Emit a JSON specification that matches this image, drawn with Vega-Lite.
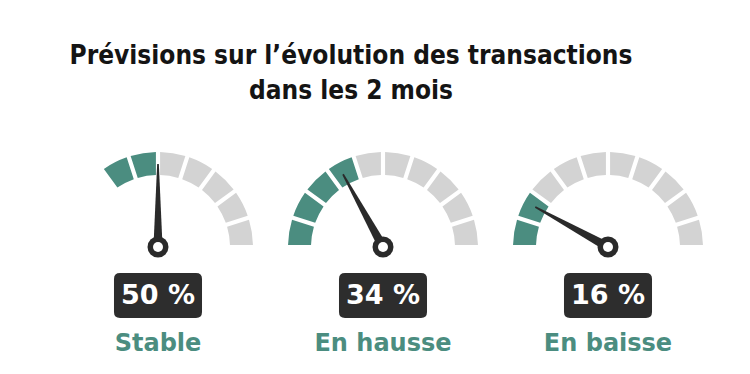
{
  "$schema": "https://vega.github.io/schema/vega-lite/v6.json",
  "width": 750,
  "height": 264,
  "padding": {"top": 43, "left": 0, "right": 0, "bottom": 0},
  "background": "white",
  "title": {
    "text": ["Prévisions sur l’évolution des transactions", "dans les 2 mois"],
    "anchor": "middle",
    "font": "DejaVu Sans Condensed, Liberation Sans Narrow, sans-serif",
    "fontSize": 26,
    "fontWeight": "bold",
    "color": "#141414",
    "lineHeight": 35,
    "offset": 7,
    "dx": -24
  },
  "config": {"view": {"stroke": null}},
  "datasets": {
    "segments": [
      {"gauge": "Stable", "start": 30, "end": 40, "state": "filled"},
      {"gauge": "Stable", "start": 40, "end": 50, "state": "filled"},
      {"gauge": "Stable", "start": 50, "end": 60, "state": "empty"},
      {"gauge": "Stable", "start": 60, "end": 70, "state": "empty"},
      {"gauge": "Stable", "start": 70, "end": 80, "state": "empty"},
      {"gauge": "Stable", "start": 80, "end": 90, "state": "empty"},
      {"gauge": "Stable", "start": 90, "end": 100, "state": "empty"},
      {"gauge": "En hausse", "start": 0, "end": 10, "state": "filled"},
      {"gauge": "En hausse", "start": 10, "end": 20, "state": "filled"},
      {"gauge": "En hausse", "start": 20, "end": 30, "state": "filled"},
      {"gauge": "En hausse", "start": 30, "end": 40, "state": "filled"},
      {"gauge": "En hausse", "start": 40, "end": 50, "state": "empty"},
      {"gauge": "En hausse", "start": 50, "end": 60, "state": "empty"},
      {"gauge": "En hausse", "start": 60, "end": 70, "state": "empty"},
      {"gauge": "En hausse", "start": 70, "end": 80, "state": "empty"},
      {"gauge": "En hausse", "start": 80, "end": 90, "state": "empty"},
      {"gauge": "En hausse", "start": 90, "end": 100, "state": "empty"},
      {"gauge": "En baisse", "start": 0, "end": 10, "state": "filled"},
      {"gauge": "En baisse", "start": 10, "end": 20, "state": "filled"},
      {"gauge": "En baisse", "start": 20, "end": 30, "state": "empty"},
      {"gauge": "En baisse", "start": 30, "end": 40, "state": "empty"},
      {"gauge": "En baisse", "start": 40, "end": 50, "state": "empty"},
      {"gauge": "En baisse", "start": 50, "end": 60, "state": "empty"},
      {"gauge": "En baisse", "start": 60, "end": 70, "state": "empty"},
      {"gauge": "En baisse", "start": 70, "end": 80, "state": "empty"},
      {"gauge": "En baisse", "start": 80, "end": 90, "state": "empty"},
      {"gauge": "En baisse", "start": 90, "end": 100, "state": "empty"}
    ],
    "gauges": [
      {"gauge": "Stable", "pct": 50, "valueLabel": "50 %"},
      {"gauge": "En hausse", "pct": 34, "valueLabel": "34 %"},
      {"gauge": "En baisse", "pct": 16, "valueLabel": "16 %"}
    ]
  },
  "encoding": {
    "x": {
      "field": "gauge",
      "type": "nominal",
      "scale": {"type": "point", "domain": ["Stable", "En hausse", "En baisse"], "range": [158, 608], "padding": 0},
      "axis": null
    }
  },
  "layer": [
    {
      "data": {"name": "segments"},
      "mark": {"type": "arc", "radius": 95, "radius2": 72, "padAngle": 0.035},
      "encoding": {
        "y": {"datum": "dial", "type": "nominal", "scale": {"type": "point", "domain": ["dial", "value", "label"], "range": [136, 233], "padding": 0}, "axis": null},
        "theta": {"field": "start", "type": "quantitative", "stack": null, "scale": {"type": "linear", "domain": [0, 100], "range": [-1.5708, 1.5708]}},
        "theta2": {"field": "end"},
        "color": {"field": "state", "type": "nominal", "scale": {"domain": ["filled", "empty"], "range": ["#4b8d80", "#d3d3d3"]}, "legend": null}
      }
    },
    {
      "data": {"name": "gauges"},
      "mark": {"type": "point", "shape": "M -0.055 0 L -0.01 -1 L 0.01 -1 L 0.055 0 Z", "filled": true, "opacity": 1, "size": 27556, "color": "#2a2a2a", "strokeWidth": 0},
      "encoding": {
        "y": {"datum": "dial", "type": "nominal", "axis": null},
        "angle": {"field": "pct", "type": "quantitative", "scale": {"domain": [0, 100], "range": [-90, 90]}}
      }
    },
    {
      "data": {"name": "gauges"},
      "mark": {"type": "point", "shape": "circle", "filled": true, "opacity": 1, "size": 440, "color": "#2a2a2a", "strokeWidth": 0},
      "encoding": {"y": {"datum": "dial", "type": "nominal", "axis": null}}
    },
    {
      "data": {"name": "gauges"},
      "mark": {"type": "point", "shape": "circle", "filled": true, "opacity": 1, "size": 100, "color": "#ffffff", "strokeWidth": 0},
      "encoding": {"y": {"datum": "dial", "type": "nominal", "axis": null}}
    },
    {
      "data": {"name": "gauges"},
      "mark": {"type": "point", "shape": "M -0.844 -0.5 L 0.844 -0.5 Q 0.978 -0.5 0.978 -0.367 L 0.978 0.367 Q 0.978 0.5 0.844 0.5 L -0.844 0.5 Q -0.978 0.5 -0.978 0.367 L -0.978 -0.367 Q -0.978 -0.5 -0.844 -0.5 Z", "filled": true, "opacity": 1, "size": 8100, "color": "#2d2d2d", "strokeWidth": 0},
      "encoding": {"y": {"datum": "value", "type": "nominal", "axis": null}}
    },
    {
      "data": {"name": "gauges"},
      "mark": {"type": "text", "font": "DejaVu Sans", "fontSize": 27, "fontWeight": "bold", "color": "#ffffff", "align": "center", "baseline": "middle"},
      "encoding": {
        "y": {"datum": "value", "type": "nominal", "axis": null},
        "text": {"field": "valueLabel"}
      }
    },
    {
      "data": {"name": "gauges"},
      "mark": {"type": "text", "font": "DejaVu Sans", "fontSize": 24, "fontWeight": "bold", "color": "#4b8d80", "align": "center", "baseline": "middle"},
      "encoding": {
        "y": {"datum": "label", "type": "nominal", "axis": null},
        "text": {"field": "gauge"}
      }
    }
  ]
}
